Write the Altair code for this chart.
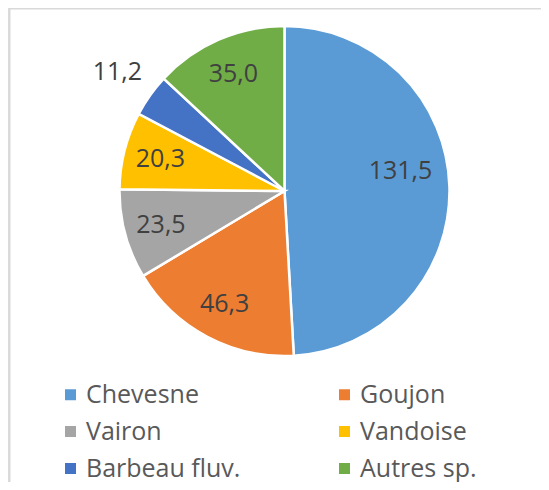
import altair as alt
import pandas as pd

categories = ["Chevesne", "Goujon", "Vairon", "Vandoise", "Barbeau fluv.", "Autres sp."]
values = [131.5, 46.3, 23.5, 20.3, 11.2, 35.0]
colors = ["#5B9BD5", "#ED7D31", "#A5A5A5", "#FFC000", "#4472C4", "#70AD47"]

df = pd.DataFrame({"espece": categories, "value": values, "order": list(range(len(categories)))})

FONT = "Open Sans"
W, H = 533, 474
CX, CY = 276.5, 183
R = 165

base = alt.Chart(df).transform_calculate(
    label="replace(format(datum.value, '.1f'), '.', ',')"
)

theta = alt.Theta("value:Q", stack=True)
order = alt.Order("order:Q", sort="ascending")

arcs = base.mark_arc(outerRadius=R, stroke="white", strokeWidth=2.5).encode(
    theta=theta,
    order=order,
    x=alt.value(CX),
    y=alt.value(CY),
    color=alt.Color(
        "espece:N",
        scale=alt.Scale(domain=categories, range=colors),
        legend=alt.Legend(
            title=None,
            orient="none",
            direction="horizontal",
            legendX=50,
            legendY=374,
            columns=2,
            columnPadding=91,
            rowPadding=11,
            symbolType="square",
            symbolSize=121,
            symbolStrokeWidth=0,
            labelFontSize=25,
            labelFont=FONT,
            labelColor="#595959",
            labelOffset=3,
            padding=0,
            labelLimit=300,
        ),
    ),
)

def text_layer(test, radius, dy=0):
    return base.mark_text(
        font=FONT, fontSize=25, color="#404040", align="center", baseline="middle", dy=dy
    ).encode(
        theta=theta,
        order=order,
        x=alt.value(CX),
        y=alt.value(CY),
        radius=alt.value(radius),
        text=alt.condition(test, alt.Text("label:N"), alt.value("")),
    )

t_inside = text_layer("datum.value >= 15 && datum.value <= 100", 128)
t_big = text_layer("datum.value > 100", 116, dy=-17)
t_out = text_layer("datum.value < 15", 205)

frame_df = pd.DataFrame({"a": [0]})
left_rule = alt.Chart(frame_df).mark_rule(color="#d9d9d9", strokeWidth=2).encode(
    x=alt.value(1.5), y=alt.value(0), y2=alt.value(H)
)
top_rule = alt.Chart(frame_df).mark_rule(color="#d9d9d9", strokeWidth=2).encode(
    x=alt.value(0.5), x2=alt.value(W), y=alt.value(0.5)
)

chart = alt.layer(arcs, t_inside, t_big, t_out, left_rule, top_rule).properties(
    width=W, height=H, autosize=alt.AutoSizeParams(type="none"), padding=0
).configure_view(strokeOpacity=0).configure(background="white")

chart.save("out.html", embed_options={"renderer": "svg", "actions": False})
